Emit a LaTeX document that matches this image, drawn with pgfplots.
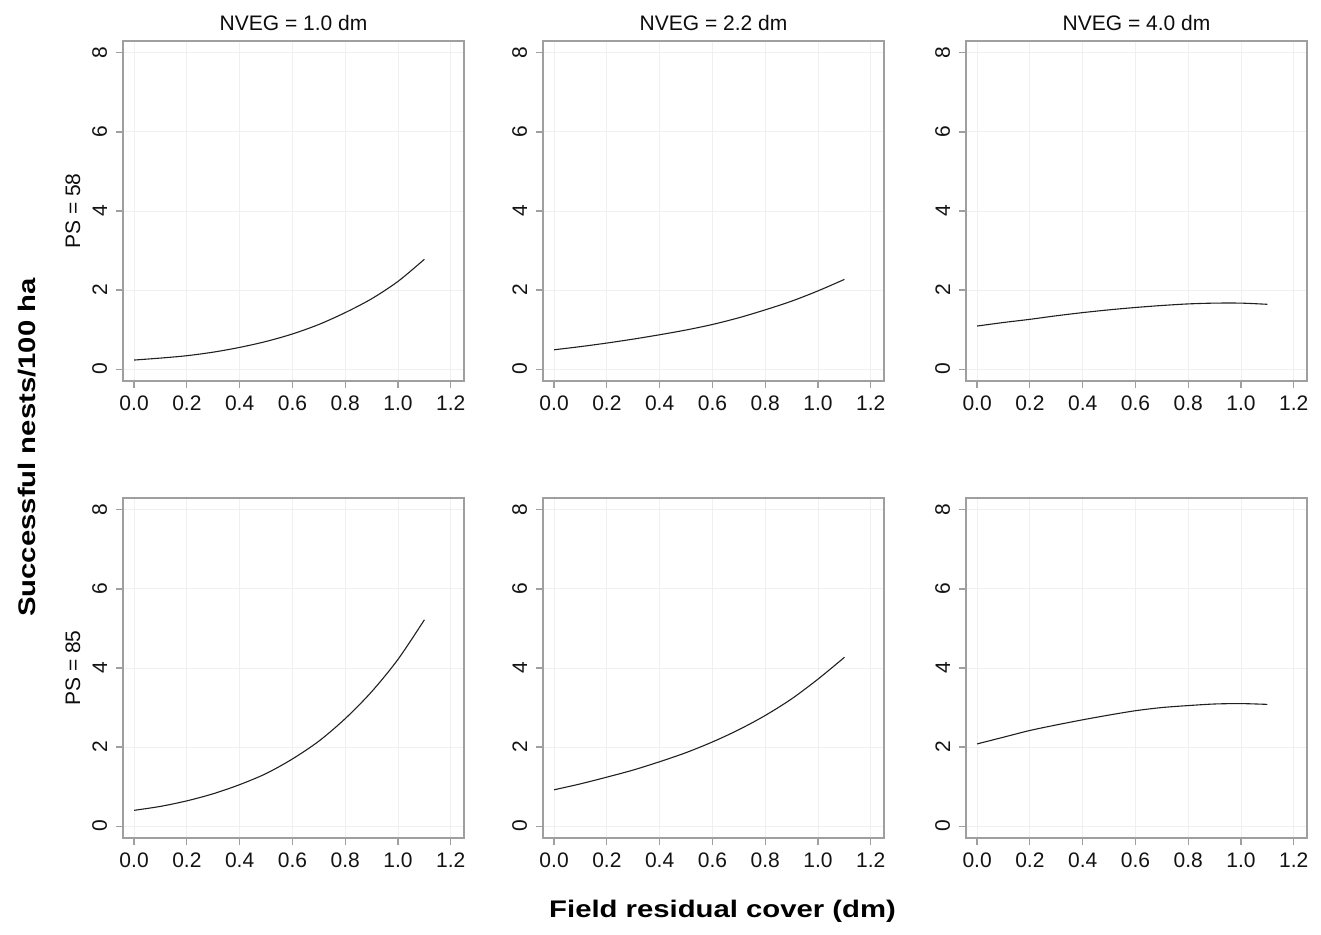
\documentclass[border=0pt]{standalone}
\usepackage{pgfplots}
\pgfplotsset{compat=1.18}
\usepackage{pgfplotstable}
\usepackage{graphicx}
\usepackage{fontspec}
\setmainfont{Liberation Sans}

% predicted successful nests/100 ha
\pgfplotstableread{
x    n10   n22   n40
0.0  0.23  0.49  1.09
0.1  0.28  0.57  1.18
0.2  0.34  0.66  1.26
0.3  0.43  0.76  1.35
0.4  0.55  0.87  1.43
0.5  0.70  0.99  1.50
0.6  0.89  1.13  1.56
0.7  1.13  1.30  1.61
0.8  1.43  1.50  1.65
0.9  1.78  1.72  1.67
1.0  2.22  1.98  1.67
1.1  2.78  2.27  1.64
}\psfiftyeight

\pgfplotstableread{
x    n10   n22   n40
0.0  0.40  0.92  2.08
0.1  0.50  1.07  2.25
0.2  0.64  1.24  2.42
0.3  0.82  1.42  2.56
0.4  1.05  1.63  2.69
0.5  1.33  1.86  2.81
0.6  1.70  2.13  2.92
0.7  2.15  2.44  3.00
0.8  2.72  2.80  3.05
0.9  3.40  3.22  3.09
1.0  4.22  3.72  3.10
1.1  5.22  4.27  3.08
}\pseightyfive

\pgfplotsset{
  panel/.style={
    scale only axis, width=170.5pt, height=170pt,
    anchor=south west, clip=false,
    xmin=-0.042, xmax=1.25, ymin=-0.30, ymax=8.30,
    xtick={0,0.2,0.4,0.6,0.8,1.0,1.2}, ytick={0,2,4,6,8},
    xtick pos=bottom, ytick pos=left, tick align=outside,
    major tick length=3.5pt,
    grid=major, grid style={gray!12, line width=0.5pt},
    axis line style={gray!75, line width=0.9pt},
    tick style={gray!75, line width=0.6pt},
    /pgf/number format/assume math mode=true,
    ticklabel style={font=\fontsize{10.5}{12}\selectfont, text=gray!15!black},
    xticklabel style={anchor=north, inner sep=0pt,
      /pgf/number format/fixed, /pgf/number format/fixed zerofill,
      /pgf/number format/precision=1},
    xticklabel shift=3.75pt,
    yticklabel style={rotate=90, anchor=south, inner sep=0pt},
    yticklabel shift=4.25pt,
    title style={at={(0.5,1)}, anchor=base, yshift=-0.5pt,
      font=\fontsize{10.5}{12}\selectfont, text=gray!10!black},
  },
  curve/.style={gray!25!black, line width=0.55pt, smooth, no marks},
}

\begin{document}
\begin{tikzpicture}
\path[use as bounding box] (0,0) rectangle (660.5pt,467pt);

% top row, PS = 58
\begin{axis}[panel, at={(61.5pt,276.5pt)}, title={NVEG = 1.0 dm}]
\addplot[curve] table[x=x, y=n10] {\psfiftyeight};
\node[rotate=90, font=\fontsize{10.5}{12}\selectfont, text=gray!10!black]
  at ([xshift=-25pt]rel axis cs:0,0.5) {PS = 58};
\end{axis}
\begin{axis}[panel, at={(271.5pt,276.5pt)}, title={NVEG = 2.2 dm}]
\addplot[curve] table[x=x, y=n22] {\psfiftyeight};
\end{axis}
\begin{axis}[panel, at={(483pt,276.5pt)}, title={NVEG = 4.0 dm}]
\addplot[curve] table[x=x, y=n40] {\psfiftyeight};
\end{axis}

% bottom row, PS = 85
\begin{axis}[panel, at={(61.5pt,48pt)}]
\addplot[curve] table[x=x, y=n10] {\pseightyfive};
\node[rotate=90, font=\fontsize{10.5}{12}\selectfont, text=gray!10!black]
  at ([xshift=-25pt]rel axis cs:0,0.5) {PS = 85};
\end{axis}
\begin{axis}[panel, at={(271.5pt,48pt)}]
\addplot[curve] table[x=x, y=n22] {\pseightyfive};
\end{axis}
\begin{axis}[panel, at={(483pt,48pt)}]
\addplot[curve] table[x=x, y=n40] {\pseightyfive};
\end{axis}

% shared axis labels
\node[rotate=90] at (13.3pt,243.25pt)
  {\scalebox{1.22}[1]{\bfseries\fontsize{12}{14}\selectfont Successful nests/100 ha}};
\node at (361.25pt,11.5pt)
  {\scalebox{1.22}[1]{\bfseries\fontsize{12}{14}\selectfont Field residual cover (dm)}};
\end{tikzpicture}
\end{document}
